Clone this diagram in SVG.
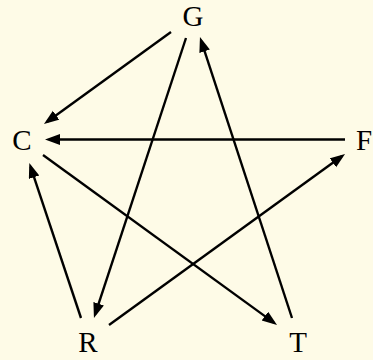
<svg xmlns="http://www.w3.org/2000/svg" width="373" height="360" viewBox="0 0 373 360">
<style>
.lbl{font-family:"Liberation Serif","Times New Roman",serif;font-size:29px;fill:#000;text-anchor:middle}
.e{stroke:#000;stroke-width:2.4;fill:none;marker-end:url(#ah)}
</style>
<defs>
<marker id="ah" markerUnits="userSpaceOnUse" markerWidth="18" markerHeight="12" refX="11" refY="5.5" orient="auto">
<path d="M0,0 L15,5.5 L0,11 z" fill="#000"/>
</marker>
</defs>
<rect width="373" height="360" fill="#FEFBE7"/>
<g id="edges">
<line class="e" x1="171" y1="32" x2="47.2" y2="121.7"/>
<line class="e" x1="186" y1="38" x2="95.2" y2="314.2"/>
<line class="e" x1="292" y1="318" x2="201.2" y2="40.8"/>
<line class="e" x1="345" y1="139.5" x2="49" y2="139.5"/>
<line class="e" x1="43" y1="155" x2="273.8" y2="322.6"/>
<line class="e" x1="109" y1="325" x2="341.8" y2="156.3"/>
<line class="e" x1="81" y1="318" x2="30.6" y2="166.8"/>
</g>
<g id="G"><text class="lbl" x="193" y="26">G</text></g>
<g id="C"><text class="lbl" x="22" y="150">C</text></g>
<g id="F"><text class="lbl" x="364" y="150">F</text></g>
<g id="R"><text class="lbl" x="88" y="352">R</text></g>
<g id="T"><text class="lbl" x="298" y="352">T</text></g>
</svg>
